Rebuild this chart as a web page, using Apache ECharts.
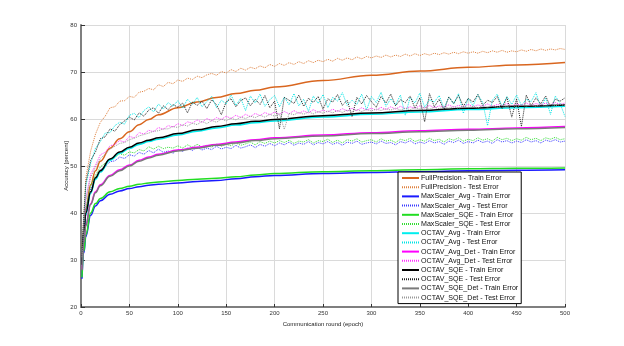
<!DOCTYPE html>
<html>
<head>
<meta charset="utf-8">
<script src="https://cdn.jsdelivr.net/npm/echarts@6/dist/echarts.min.js"></script>
<style>
    html, body { margin: 0; padding: 0; background: #fff; }
    #chartLine { width: 624px; height: 346px; }
</style>
</head>
<body>
<div id="chartLine"></div>
<script>
    // epochs where the smooth train curves were read
    const epochsTrain = [1, 3, 5, 10, 15, 20, 30, 40, 50, 60, 70, 80, 100, 120, 140, 160, 180, 200, 250, 300, 350, 400, 450, 500];
    // epochs where the noisy test curves were read (1, 5, 10 ... 500)
    const epochsTest = [1];
    for (let e = 5; e <= 500; e += 5) epochsTest.push(e);

    const xTicks = [0, 50, 100, 150, 200, 250, 300, 350, 400, 450, 500];
    const yTicks = [20, 30, 40, 50, 60, 70, 80];

    // train curves
    const fpTrain = [30, 37, 41, 46, 49, 51, 53.8, 55.8, 57.3, 58.8, 59.9, 60.9, 62.4, 63.6, 64.6, 65.4, 66.1, 66.8, 68.2, 69.3, 70.2, 71.0, 71.5, 72.0];
    const msAvgTrain = [26, 31.5, 35, 39.5, 41.5, 42.6, 44.0, 44.7, 45.2, 45.6, 45.9, 46.1, 46.4, 46.7, 46.9, 47.3, 47.7, 48.0, 48.4, 48.6, 48.8, 49.0, 49.1, 49.2];
    const msSqeTrain = [26.3, 31.9, 35.4, 40.0, 42.0, 43.1, 44.5, 45.2, 45.7, 46.1, 46.4, 46.6, 46.9, 47.2, 47.4, 47.7, 48.1, 48.4, 48.8, 49.0, 49.2, 49.4, 49.5, 49.6];
    const octAvgTrain = [28.8, 35.7, 39.7, 44.2, 47.2, 48.7, 51.2, 52.7, 53.7, 54.6, 55.2, 55.7, 56.6, 57.4, 58.1, 58.7, 59.2, 59.6, 60.4, 61.0, 61.5, 62.0, 62.4, 62.7];
    const octAvgDetTrain = [28, 34, 37.5, 42, 44.5, 46, 48, 49.2, 50.2, 51.2, 51.9, 52.5, 53.4, 54.0, 54.6, 55.1, 55.6, 56.0, 56.6, 57.1, 57.5, 57.8, 58.1, 58.4];
    const octSqeTrain = [29, 36, 40, 44.5, 47.5, 49, 51.5, 53, 54, 54.9, 55.5, 56, 56.9, 57.7, 58.4, 59.0, 59.5, 59.9, 60.7, 61.3, 61.8, 62.3, 62.7, 63.0];
    const octSqeDetTrain = [27.8, 33.8, 37.3, 41.8, 44.3, 45.8, 47.8, 49.0, 50.0, 51.0, 51.7, 52.3, 53.2, 53.8, 54.4, 54.9, 55.4, 55.8, 56.4, 56.9, 57.3, 57.6, 57.9, 58.2];

    // test curves
    const fpTest = [
        33.0, 47.5, 53.2, 56.8, 59.3, 60.6, 62.4, 62.6, 63.8, 63.9,
        64.8, 64.6, 65.7, 65.9, 66.5, 66.2, 67.3, 66.9, 67.8, 67.5,
        68.3, 68.0, 68.7, 68.4, 69.1, 68.8, 69.4, 69.7, 69.3, 70.1,
        69.8, 70.5, 70.1, 70.8, 70.4, 71.0, 70.7, 71.3, 70.9, 71.6,
        71.2, 71.8, 71.4, 72.0, 71.6, 72.2, 71.8, 72.4, 72.0, 72.5,
        72.2, 72.7, 72.3, 72.9, 72.5, 73.0, 72.6, 73.2, 72.8, 73.3,
        73.0, 73.4, 73.1, 73.6, 73.2, 73.6, 73.3, 73.8, 73.4, 73.9,
        73.5, 73.9, 73.6, 74.0, 73.7, 74.1, 73.8, 74.2, 73.9, 74.3,
        74.0, 74.3, 74.0, 74.4, 74.1, 74.5, 74.2, 74.6, 74.2, 74.5,
        74.3, 74.7, 74.4, 74.8, 74.5, 74.9, 74.6, 74.9, 74.7, 75.0,
        74.8
    ];
    const msAvgTest = [
        28.0, 40.2, 45.1, 47.3, 49.2, 49.9, 50.9, 51.1, 51.9, 51.6,
        52.4, 52.1, 52.9, 52.5, 53.3, 52.8, 53.6, 52.9, 53.2, 52.7,
        53.5, 53.1, 53.8, 53.3, 54.0, 53.4, 53.8, 53.5, 54.2, 53.6,
        54.0, 53.7, 54.4, 53.8, 54.1, 54.5, 53.9, 54.6, 54.2, 54.8,
        54.3, 54.9, 54.5, 55.1, 54.4, 54.9, 54.6, 55.2, 54.5, 55.0,
        54.7, 55.2, 54.6, 55.0, 54.4, 55.1, 54.8, 55.3, 54.6, 54.9,
        55.1, 54.7, 55.3, 54.8, 55.0, 54.5, 55.2, 54.9, 55.4, 54.7,
        55.1, 54.8, 55.4, 54.9, 55.2, 54.6, 55.3, 55.0, 55.5, 54.8,
        55.2, 54.9, 55.5, 55.0, 55.3, 54.8, 55.6, 55.1, 55.4, 54.9,
        55.3, 55.0, 55.6, 55.1, 55.4, 54.9, 55.5, 55.2, 55.6, 55.1,
        55.3
    ];
    const msSqeTest = [
        28.5, 40.8, 45.8, 48.0, 49.8, 50.6, 51.5, 51.9, 52.6, 52.3,
        53.0, 52.8, 53.5, 53.2, 54.1, 53.6, 54.2, 53.7, 54.0, 53.8,
        54.3, 53.8, 54.5, 54.0, 54.6, 54.1, 54.4, 54.0, 54.7, 54.2,
        54.6, 54.3, 54.9, 54.4, 54.7, 55.1, 54.5, 55.2, 54.8, 55.3,
        54.9, 55.4, 55.0, 55.5, 54.8, 55.3, 55.1, 55.6, 54.9, 55.4,
        55.2, 55.7, 55.0, 55.5, 54.9, 55.6, 55.3, 55.8, 55.1, 55.4,
        55.6, 55.1, 55.8, 55.3, 55.5, 55.0, 55.7, 55.4, 55.9, 55.2,
        55.6, 55.3, 55.9, 55.4, 55.7, 55.1, 55.8, 55.5, 56.0, 55.3,
        55.7, 55.4, 56.0, 55.5, 55.8, 55.3, 56.1, 55.6, 55.9, 55.4,
        55.8, 55.5, 56.1, 55.6, 55.9, 55.4, 56.0, 55.7, 56.1, 55.6,
        55.8
    ];
    const octAvgTest = [
        31.8, 45.8, 50.6, 53.8, 55.2, 57.0, 57.1, 58.6, 59.3, 58.9,
        60.8, 61.2, 60.3, 61.8, 62.6, 61.5, 63.2, 62.1, 63.5, 62.7,
        63.9, 62.3, 64.2, 63.1, 64.6, 62.6, 63.7, 64.8, 62.4, 64.0,
        63.2, 65.1, 62.9, 64.4, 61.8, 64.9, 63.4, 65.3, 62.7, 64.1,
        65.0, 62.6, 64.7, 63.0, 65.4, 62.8, 64.2, 61.6, 64.9, 63.3,
        65.2, 62.4, 64.6, 63.8, 65.6, 62.9, 64.0, 63.1, 65.3, 61.9,
        64.8, 63.5, 65.7, 62.7, 64.3, 63.0, 65.1, 60.8, 64.6, 63.4,
        65.5, 62.5, 64.1, 63.6, 65.0, 62.3, 64.7, 63.2, 65.4, 61.2,
        64.4, 62.8, 65.2, 63.5, 58.6, 64.0, 65.3, 62.6, 64.8, 63.1,
        65.1, 62.9, 64.2, 63.7, 65.6, 62.4, 64.5, 61.0, 64.9, 63.3,
        60.5
    ];
    const octAvgDetTest = [
        31.0, 43.2, 48.3, 50.2, 52.4, 52.9, 54.3, 54.6, 55.4, 55.1,
        56.3, 56.0, 57.1, 56.8, 57.6, 57.3, 58.2, 57.8, 58.6, 58.3,
        59.0, 58.6, 59.4, 59.1, 59.8, 59.3, 60.1, 59.6, 60.3, 59.9,
        60.6, 60.1, 60.8, 60.3, 61.0, 60.5, 61.2, 60.7, 61.4, 60.9,
        61.5, 61.0, 61.6, 61.1, 61.8, 61.2, 61.7, 61.3, 62.0, 61.4,
        61.9, 61.5, 62.1, 61.6, 62.2, 61.7, 62.3, 61.8, 62.4, 61.9,
        62.3, 61.9, 62.5, 62.0, 62.6, 62.1, 62.7, 62.2, 62.6, 62.3,
        62.8, 62.3, 62.9, 62.4, 62.8, 62.5, 63.0, 62.5, 62.9, 62.6,
        63.1, 62.6, 63.0, 62.7, 63.2, 62.7, 63.1, 62.8, 63.3, 62.8,
        63.2, 62.9, 63.4, 62.9, 63.3, 63.0, 63.4, 63.0, 63.5, 63.1,
        63.4
    ];
    const octSqeTest = [
        32.5, 46.5, 51.2, 53.0, 55.8, 56.2, 57.9, 57.4, 58.8, 59.6,
        60.4, 59.8, 61.3, 60.6, 61.9, 62.4, 61.2, 62.8, 62.0, 63.1,
        62.5, 63.4, 61.3, 63.6, 62.9, 63.8, 62.2, 64.1, 63.0, 60.9,
        63.7, 64.3, 62.6, 63.9, 64.5, 62.8, 64.2, 63.1, 65.0, 62.4,
        63.8, 57.9, 64.6, 64.0, 63.3, 65.1, 62.7, 64.4, 63.5, 64.8,
        62.1, 64.3, 63.6, 65.2, 62.9, 64.0, 60.5, 64.6, 63.2, 65.0,
        63.7, 62.5, 64.8, 63.4, 65.3, 62.8, 64.1, 63.5, 64.9, 62.3,
        64.5, 59.4, 65.4, 62.6, 64.2, 61.9, 64.7, 63.3, 65.0, 62.7,
        64.4, 63.6, 65.2, 62.9, 64.0, 63.5, 64.8, 62.2, 64.6, 60.4,
        64.3, 58.4, 65.1, 62.8, 64.5, 63.2, 64.9, 62.6, 64.2, 63.8,
        64.5
    ];
    const octSqeDetTest = [
        30.6, 42.6, 47.6, 49.8, 51.6, 52.5, 53.6, 54.2, 54.8, 55.0,
        55.6, 55.9, 56.4, 56.7, 57.0, 57.4, 57.5, 57.9, 57.9, 58.4,
        58.2, 58.8, 58.5, 59.1, 58.8, 59.5, 59.0, 59.7, 59.3, 60.0,
        59.6, 60.2, 59.8, 60.4, 60.1, 60.6, 60.3, 60.8, 60.4, 61.0,
        60.6, 61.1, 57.8, 61.2, 60.9, 61.4, 61.0, 61.5, 61.1, 61.6,
        61.2, 61.7, 61.3, 61.8, 61.4, 61.9, 61.5, 62.0, 61.6, 62.0,
        61.7, 62.1, 61.8, 62.2, 61.9, 62.3, 61.9, 62.3, 62.0, 62.4,
        62.1, 62.5, 62.1, 62.5, 62.2, 62.6, 62.3, 62.6, 62.3, 62.7,
        62.4, 62.7, 62.4, 62.8, 62.5, 62.8, 62.5, 62.9, 62.6, 62.9,
        62.6, 63.0, 62.7, 63.0, 62.7, 63.1, 62.8, 63.1, 62.8, 63.1,
        62.9
    ];

    function pairs(xs, ys) {
        return xs.map((x, i) => [x, ys[i]]);
    }

    function trainLine(name, color, ys) {
        return {
            name: name, type: 'line', symbol: 'none', smooth: 0.4, smoothMonotone: 'x',
            lineStyle: { color: color, width: 1.5, type: 'solid' },
            itemStyle: { color: color },
            data: pairs(epochsTrain, ys)
        };
    }

    function testLine(name, color, ys) {
        return {
            name: name, type: 'line', symbol: 'none',
            lineStyle: { color: color, width: 1, type: [1, 1] },
            itemStyle: { color: color },
            data: pairs(epochsTest, ys)
        };
    }

    const series = [
        trainLine('FullPrecision - Train Error', '#d9661f', fpTrain),
        testLine('FullPrecision - Test Error', '#e08240', fpTest),
        trainLine('MaxScaler_Avg - Train Error', '#1a1aff', msAvgTrain),
        testLine('MaxScaler_Avg - Test Error', '#3a3aff', msAvgTest),
        trainLine('MaxScaler_SQE - Train Error', '#22dd22', msSqeTrain),
        testLine('MaxScaler_SQE - Test Error', '#33dd33', msSqeTest),
        trainLine('OCTAV_Avg - Train Error', '#00eeee', octAvgTrain),
        testLine('OCTAV_Avg - Test Error', '#00e5e5', octAvgTest),
        trainLine('OCTAV_Avg_Det - Train Error', '#ff00ff', octAvgDetTrain),
        testLine('OCTAV_Avg_Det - Test Error', '#ff33ff', octAvgDetTest),
        trainLine('OCTAV_SQE - Train Error', '#000000', octSqeTrain),
        testLine('OCTAV_SQE - Test Error', '#222222', octSqeTest),
        trainLine('OCTAV_SQE_Det - Train Error', '#7a7a7a', octSqeDetTrain),
        testLine('OCTAV_SQE_Det - Test Error', '#9a9a9a', octSqeDetTest)
    ];

    const chart = echarts.init(document.getElementById('chartLine'), null, { renderer: 'canvas' });
    chart.setOption({
        backgroundColor: '#ffffff',
        animation: false,
        grid: { left: 81, right: 59, top: 25, bottom: 39 },
        legend: {
            orient: 'vertical',
            left: 398,
            top: 172,
            width: 123,
            padding: [2, 3, 2, 3],
            itemWidth: 17,
            itemHeight: 8,
            itemGap: 1.2,
            itemStyle: { opacity: 0 },
            backgroundColor: '#ffffff',
            borderColor: '#000000',
            borderWidth: 1,
            textStyle: { fontFamily: 'Liberation Sans, Arial', fontSize: 7.1, lineHeight: 8, color: '#111', padding: [0, 0, 0, -3] },
            data: series.map(s => s.name)
        },
        xAxis: {
            type: 'value',
            min: xTicks[0],
            max: xTicks[xTicks.length - 1],
            interval: 50,
            name: 'Communication round (epoch)',
            nameLocation: 'middle',
            nameGap: 13,
            nameTextStyle: { fontFamily: 'Liberation Sans, Arial', fontSize: 6, color: '#222' },
            axisLine: { lineStyle: { color: '#7f7f7f', width: 2 } },
            axisTick: { inside: true, length: 3, lineStyle: { color: '#333' } },
            axisLabel: { fontFamily: 'Liberation Sans, Arial', fontSize: 6, color: '#333', margin: 3 },
            splitLine: { show: true, lineStyle: { color: '#dadada', width: 1 } }
        },
        yAxis: {
            type: 'value',
            min: yTicks[0],
            max: yTicks[yTicks.length - 1],
            interval: 10,
            name: 'Accuracy [percent]',
            nameLocation: 'middle',
            nameGap: 12,
            nameMoveOverlap: false,
            nameTextStyle: { fontFamily: 'Liberation Sans, Arial', fontSize: 6, color: '#222' },
            axisLine: { show: true, lineStyle: { color: '#7f7f7f', width: 2 } },
            axisTick: { show: true, inside: true, length: 4, lineStyle: { color: '#333' } },
            axisLabel: { fontFamily: 'Liberation Sans, Arial', fontSize: 6, color: '#333', margin: 4 },
            splitLine: { show: true, lineStyle: { color: '#dadada', width: 1 } }
        },
        series: series
    });
</script>
</body>
</html>
